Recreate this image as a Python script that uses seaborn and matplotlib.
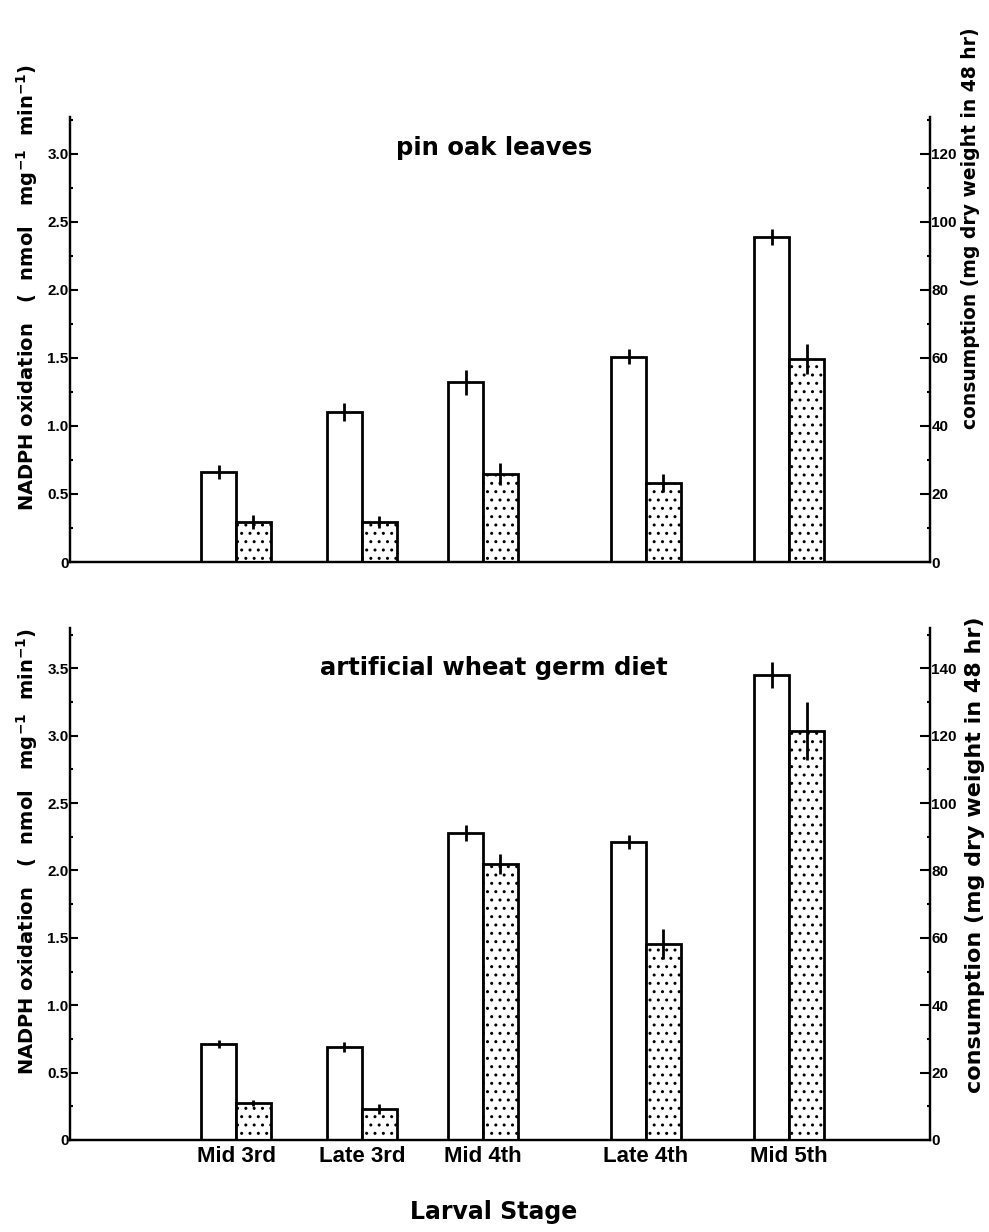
import numpy as np
import matplotlib
matplotlib.use("Agg")
import matplotlib.pyplot as plt
import seaborn as sns

# ---- data -------------------------------------------------------------
stages = ["Mid 3rd", "Late 3rd", "Mid 4th", "Late 4th", "Mid 5th"]

# pin oak leaves
oak_nadph = [0.66, 1.10, 1.32, 1.51, 2.39]
oak_nadph_err = [0.05, 0.065, 0.09, 0.055, 0.06]
oak_consumption = [11.8, 11.8, 25.9, 23.2, 59.7]
oak_consumption_err = [2.0, 1.8, 3.2, 2.7, 4.5]

# artificial wheat germ diet
diet_nadph = [0.71, 0.69, 2.28, 2.21, 3.45]
diet_nadph_err = [0.03, 0.04, 0.06, 0.05, 0.095]
diet_consumption = [11.0, 9.2, 81.9, 58.2, 121.4]
diet_consumption_err = [1.0, 1.6, 3.0, 4.5, 8.5]

# ---- layout -----------------------------------------------------------
stage_pos = np.array([1.0, 2.02, 3.0, 4.32, 5.48])
BAR_W = 0.283
XLIM = (-0.344, 6.62)

sns.set_theme(style="white")
plt.rcParams["font.family"] = ["DejaVu Sans"]
plt.rcParams["font.weight"] = "bold"
plt.rcParams["mathtext.default"] = "regular"
plt.rcParams["hatch.linewidth"] = 1.0
plt.rcParams["hatch.color"] = "black"
for key in ("text.color", "axes.labelcolor", "xtick.color", "ytick.color"):
    plt.rcParams[key] = "black"

TICK_FONT = dict(family=["Liberation Sans", "DejaVu Sans"], weight="bold")

fig = plt.figure(figsize=(9.89, 12.32), dpi=100)
ax_top = fig.add_axes([0.0708, 0.5438, 0.8696, 0.3612])
ax_bot = fig.add_axes([0.0708, 0.0747, 0.8696, 0.4156])


def fmt_left(v):
    return "0" if v == 0 else f"{v:.1f}"


def draw_panel(ax, nadph, nadph_err, cons, cons_err, title, title_y, left_top,
               left_max_tick, right_max_tick, show_x):
    ax2 = ax.twinx()
    xw = stage_pos - BAR_W / 2
    xs = stage_pos + BAR_W / 2
    width_frac = BAR_W / np.diff(stage_pos).min()

    # NADPH oxidation: open bars on the left scale
    sns.barplot(x=xw, y=nadph, ax=ax, native_scale=True, orient="x", width=width_frac,
                color="white", edgecolor="black", linewidth=2.0, errorbar=None,
                saturation=1)
    ax.errorbar(xw, nadph, yerr=nadph_err, fmt="none", ecolor="black",
                elinewidth=2.0, capsize=0, zorder=5)

    # consumption: stippled bars on the right scale
    sns.barplot(x=xs, y=cons, ax=ax2, native_scale=True, orient="x", width=width_frac,
                color="white", edgecolor="black", linewidth=2.0, errorbar=None,
                saturation=1, hatch="..")
    ax2.errorbar(xs, cons, yerr=cons_err, fmt="none", ecolor="black",
                 elinewidth=2.0, capsize=0, zorder=5)

    ax.set_xlim(*XLIM)
    ax.set_ylim(0, left_top)
    ax2.set_ylim(0, left_top * 40)

    lt = np.arange(0, left_max_tick + 0.01, 0.5)
    ax.set_yticks(lt, [fmt_left(v) for v in lt])
    ax.set_yticks(np.arange(0.25, left_top, 0.5), minor=True)
    rt = np.arange(0, right_max_tick + 1, 20)
    ax2.set_yticks(rt, [f"{int(v)}" for v in rt])
    ax2.set_yticks(np.arange(10, left_top * 40, 20), minor=True)

    for a in (ax, ax2):
        a.set_xlabel("")
        a.set_ylabel("")
        a.grid(False)
        a.spines["top"].set_visible(False)
        for s in ("left", "right", "bottom"):
            a.spines[s].set_linewidth(1.6)
            a.spines[s].set_color("black")
        a.patch.set_visible(False)

    ax.tick_params(axis="y", which="major", direction="in", length=6, width=1.5,
                   pad=1, left=True, right=False)
    ax.tick_params(axis="y", which="minor", direction="in", length=2.5, width=1.5,
                   left=True, right=False)
    ax2.tick_params(axis="y", which="major", direction="in", length=7, width=1.5,
                    pad=1, right=True, left=False)
    ax2.tick_params(axis="y", which="minor", direction="in", length=2.5, width=1.5,
                    right=True, left=False)
    for lab in ax.get_yticklabels() + ax2.get_yticklabels():
        lab.set_fontproperties(TICK_FONT)
        lab.set_fontsize(11)

    ax2.tick_params(axis="x", bottom=False, top=False, labelbottom=False)
    if show_x:
        ax.set_xticks(stage_pos, stages)
        ax.tick_params(axis="x", length=0, pad=4)
        for lab in ax.get_xticklabels():
            lab.set_fontproperties(TICK_FONT)
            lab.set_fontsize(16)
    else:
        ax.tick_params(axis="x", bottom=False, labelbottom=False)

    ax.text(0.493, title_y, title, transform=ax.get_yaxis_transform(),
            ha="center", va="center", fontsize=17.5, fontweight="bold")
    return ax2


draw_panel(ax_top, oak_nadph, oak_nadph_err, oak_consumption, oak_consumption_err,
           "pin oak leaves", 3.04, 3.27, 3.0, 120, False)
draw_panel(ax_bot, diet_nadph, diet_nadph_err, diet_consumption, diet_consumption_err,
           "artificial wheat germ diet", 3.5, 3.80, 3.5, 140, True)

left_label = "NADPH oxidation   (  nmol   mg$^{-1}$  min$^{-1}$)"
right_label = "consumption (mg dry weight in 48 hr)"
fig.text(27 / 989, 1 - 288 / 1232, left_label, rotation=90, ha="center", va="center",
         fontsize=14, fontweight="bold")
fig.text(27 / 989, 1 - 852 / 1232, left_label, rotation=90, ha="center", va="center",
         fontsize=14, fontweight="bold")
fig.text(970 / 989, 1 - 228 / 1232, right_label, rotation=90, ha="center", va="center",
         fontsize=13.5, fontweight="bold")
fig.text(975 / 989, 1 - 855 / 1232, right_label, rotation=90, ha="center", va="center",
         fontsize=16, fontweight="bold")

fig.text(494 / 989, 1 - 1212 / 1232, "Larval Stage", ha="center", va="center",
         fontsize=17, fontweight="bold")

fig.savefig("out.png", dpi=100, facecolor="white")
